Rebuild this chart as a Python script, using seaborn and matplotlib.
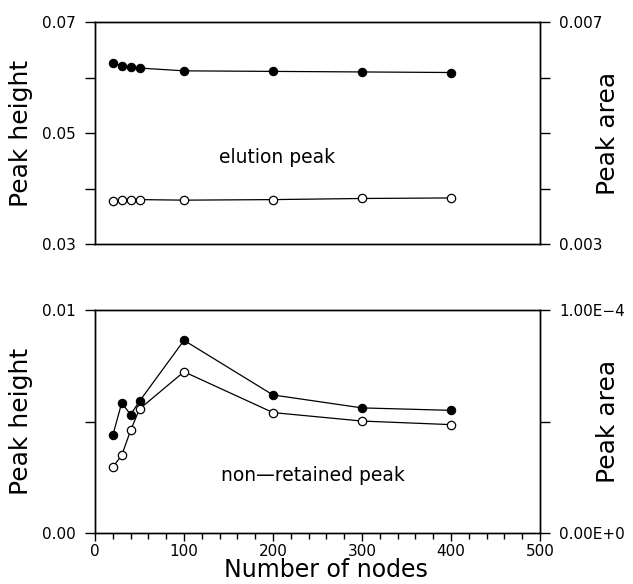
import matplotlib
matplotlib.use("Agg")
import matplotlib.pyplot as plt
import seaborn as sns
from matplotlib.ticker import MultipleLocator

# ---- data ----
nodes = [20, 30, 40, 50, 100, 200, 300, 400]
elution_height = [0.0627, 0.0621, 0.0619, 0.0617, 0.0612, 0.0611, 0.0610, 0.0609]
elution_area = [0.00377, 0.00380, 0.00380, 0.00380, 0.00379, 0.00380, 0.00382, 0.00383]
nonret_height = [0.00438, 0.00583, 0.00531, 0.00591, 0.00864, 0.00619, 0.00561, 0.00550]
nonret_area = [2.96e-5, 3.48e-5, 4.60e-5, 5.56e-5, 7.23e-5, 5.40e-5, 5.02e-5, 4.86e-5]

x_ticks = [0, 100, 200, 300, 400, 500]
top_left_ticks = [0.03, 0.04, 0.05, 0.06, 0.07]
top_left_labels = ["0.03", "", "0.05", "", "0.07"]
top_right_ticks = [0.003, 0.004, 0.005, 0.006, 0.007]
top_right_labels = ["0.003", "", "", "", "0.007"]
bot_left_ticks = [0.0, 0.005, 0.01]
bot_left_labels = ["0.00", "", "0.01"]
bot_right_ticks = [0.0, 5e-5, 1e-4]
bot_right_labels = ["0.00E+0", "", "1.00E\u22124"]

sns.set_style("ticks")
plt.rcParams["font.family"] = ["DejaVu Sans"]
plt.rcParams["axes.edgecolor"] = "black"
plt.rcParams["axes.linewidth"] = 1.0
plt.rcParams["text.color"] = "black"
plt.rcParams["axes.labelcolor"] = "black"
plt.rcParams["xtick.color"] = "black"
plt.rcParams["ytick.color"] = "black"

W, H = 633, 584
fig = plt.figure(figsize=(W / 100, H / 100), dpi=100)
ax1 = fig.add_axes([95 / W, 1 - 244 / H, 445 / W, 222 / H])
ax2 = fig.add_axes([95 / W, 1 - 533 / H, 445 / W, 223 / H])
tw1 = ax1.twinx()
tw2 = ax2.twinx()

filled = dict(color="black", marker="o", markersize=6, markerfacecolor="black",
              markeredgecolor="black", markeredgewidth=0.8, linewidth=0.9)
opened = dict(color="black", marker="o", markersize=6, markerfacecolor="white",
              markeredgecolor="black", markeredgewidth=0.9, linewidth=0.9)

sns.lineplot(x=nodes, y=elution_height, ax=ax1, **filled)
sns.lineplot(x=nodes, y=elution_area, ax=tw1, **opened)
sns.lineplot(x=nodes, y=nonret_height, ax=ax2, **filled)
sns.lineplot(x=nodes, y=nonret_area, ax=tw2, **opened)

for ax in (ax1, ax2, tw1, tw2):
    ax.set_xlim(0, 500)
    for s in ax.spines.values():
        s.set_visible(True)
        s.set_color("black")
        s.set_linewidth(1.0)
    ax.set_xlabel("")
    ax.set_ylabel("")

# top panel
ax1.set_ylim(0.03, 0.07)
ax1.set_yticks(top_left_ticks)
ax1.set_yticklabels(top_left_labels)
tw1.set_ylim(0.003, 0.007)
tw1.set_yticks(top_right_ticks)
tw1.set_yticklabels(top_right_labels)
ax1.tick_params(axis="x", bottom=False, labelbottom=False)

# bottom panel
ax2.set_ylim(0.0, 0.01)
ax2.set_yticks(bot_left_ticks)
ax2.set_yticklabels(bot_left_labels)
tw2.set_ylim(0.0, 1e-4)
tw2.set_yticks(bot_right_ticks)
tw2.set_yticklabels(bot_right_labels)
ax2.set_xticks(x_ticks)
ax2.set_xticklabels([str(v) for v in x_ticks])
ax2.xaxis.set_minor_locator(MultipleLocator(20))
ax2.tick_params(axis="x", which="major", direction="out", length=6, width=1,
                labelsize=11, pad=2, colors="black")
ax2.tick_params(axis="x", which="minor", direction="out", length=4, width=1)

for ax in (ax1, ax2, tw1, tw2):
    ax.tick_params(axis="y", direction="out", length=7, width=1, labelsize=11,
                   pad=7, colors="black")

# axis labels
for ax in (ax1, ax2):
    ax.set_ylabel("Peak height", fontsize=18)
    ax.yaxis.set_label_coords(-0.14, 0.5)
for tw in (tw1, tw2):
    tw.set_ylabel("Peak area", fontsize=18, rotation=90)
    tw.yaxis.set_label_coords(1.125, 0.5)
ax2.set_xlabel("Number of nodes", fontsize=17)
ax2.xaxis.set_label_coords(0.52, -0.112)

ax1.text(0.41, 0.39, "elution peak", transform=ax1.transAxes, ha="center",
         va="center", fontsize=13.5)
ax2.text(0.49, 0.26, "non\u2014retained peak", transform=ax2.transAxes,
         ha="center", va="center", fontsize=13.5)

fig.savefig("out.png", dpi=100, facecolor="white")
